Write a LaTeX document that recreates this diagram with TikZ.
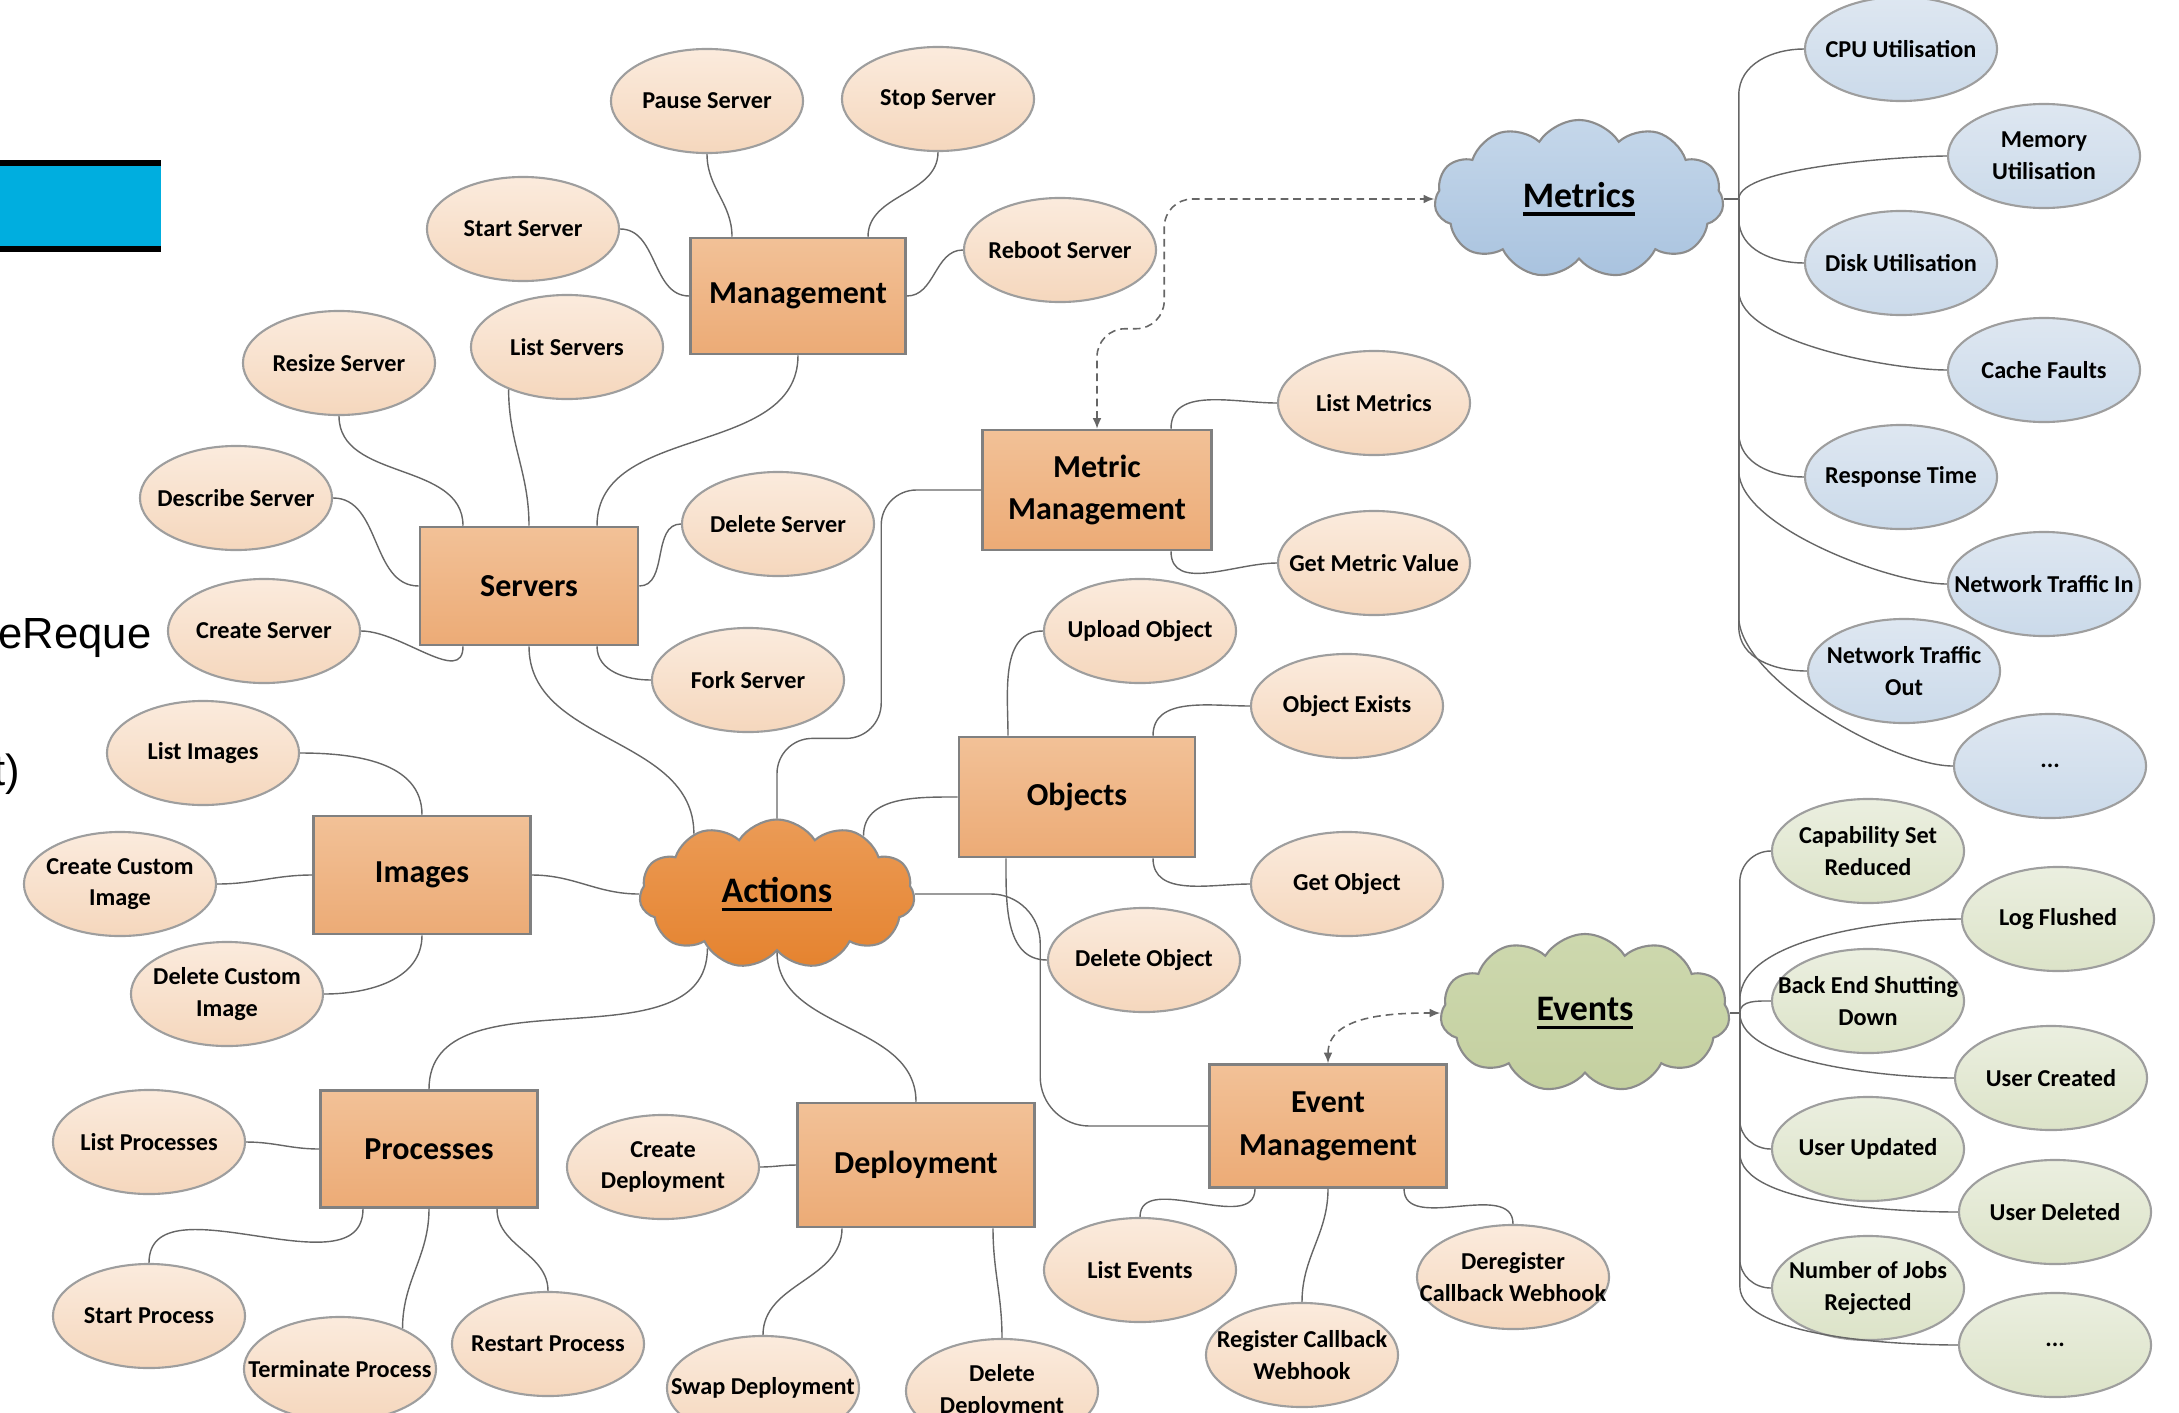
\documentclass[tikz,border=0pt]{standalone}
\usepackage{fontspec}
\setmainfont{Carlito}
\newfontfamily\slidefont{Liberation Sans}
\newcommand{\hubul}[1]{\setbox0\hbox{#1}\rlap{\rule[-2.3pt]{\wd0}{0.9pt}}\box0}
\usepackage{tikz}
\usetikzlibrary{arrows.meta,positioning,shapes.geometric,shapes.symbols,calc}

\definecolor{peachtop}{HTML}{FBEBDD}
\definecolor{peachbot}{HTML}{F5D7BD}
\definecolor{boxtop}{HTML}{F2C197}
\definecolor{boxbot}{HTML}{ECAB76}
\definecolor{bluetop}{HTML}{DEE7F1}
\definecolor{bluebot}{HTML}{CBDAEA}
\definecolor{greentop}{HTML}{EBEFE0}
\definecolor{greenbot}{HTML}{DCE3C8}
\definecolor{acttop}{HTML}{EB9B56}
\definecolor{actbot}{HTML}{E5832F}
\definecolor{mettop}{HTML}{C5D7EA}
\definecolor{metbot}{HTML}{A9C3DF}
\definecolor{evttop}{HTML}{CDD8AE}
\definecolor{evtbot}{HTML}{C4D0A0}
\definecolor{slideblue}{HTML}{00AEDF}

\begin{document}
\begin{tikzpicture}[x=0.01cm, y=-0.01cm,
  task/.style={ellipse, draw=black!38, line width=0.6pt, top color=peachtop, bottom color=peachbot,
               minimum width=1.92cm, minimum height=1.04cm, inner xsep=-18pt, inner ysep=0pt,
               align=center, font=\fontsize{6.9}{9}\selectfont\bfseries},
  mtask/.style={task, top color=bluetop, bottom color=bluebot},
  etask/.style={task, top color=greentop, bottom color=greenbot},
  group/.style={draw=black!50, line width=0.7pt, top color=boxtop, bottom color=boxbot,
                minimum width=2.17cm, minimum height=1.18cm, inner sep=0pt, align=center,
                font=\fontsize{9.1}{12.2}\selectfont\bfseries},
  hub/.style={cloud, cloud puffs=11, cloud puff arc=115, cloud ignores aspect, draw=black!45,
              line width=0.6pt, minimum width=2.89cm, minimum height=1.58cm, inner sep=0pt,
              font=\fontsize{10.2}{12}\selectfont\bfseries},
  link/.style={draw=black!60, line width=0.4pt},
  feed/.style={draw=black!60, line width=0.45pt, dash pattern=on 2.2pt off 1.4pt,
               {Latex[length=3pt,width=2.5pt]}-{Latex[length=3pt,width=2.5pt]}},
  slidetxt/.style={inner sep=0pt, font=\slidefont\fontsize{12.4}{14}\selectfont},
]
\useasboundingbox (0,0) rectangle (2179,1412);

% Slide leftovers
\fill[slideblue] (0,160) rectangle (161,252);
\fill[black] (0,160) rectangle (161,166);
\fill[black] (0,246) rectangle (161,252);
\node[slidetxt, anchor=base west] (frag1) at (-2,648) {eReque};
\node[slidetxt, anchor=base east] (frag2) at (21,785) {t)};

% Hubs
\node[hub, top color=acttop, bottom color=actbot, minimum width=2.75cm, minimum height=1.49cm] (actions) at (777,894) {\hubul{Actions}};
\node[hub, top color=mettop, bottom color=metbot] (metrics) at (1579,199) {\hubul{Metrics}};
\node[hub, top color=evttop, bottom color=evtbot] (events) at (1585,1013) {\hubul{Events}};
\coordinate (mhub) at ($(metrics.east)+(15,0)$);
\coordinate (ehub) at ($(events.east)+(10,0)$);

% Groups
\node[group, minimum width=2.15cm, minimum height=1.16cm] (mgmt) at (798,296) {Management};
\node[group, minimum width=2.18cm] (servers) at (529,586) {Servers};
\node[group] (images) at (422,875) {Images};
\node[group, minimum height=1.17cm] (procs) at (429,1149) {Processes};
\node[group, minimum width=2.37cm, minimum height=1.24cm] (deploy) at (916,1165) {Deployment};
\node[group, minimum width=2.29cm, minimum height=1.2cm] (metricmgmt) at (1097,490) {Metric\\Management};
\node[group, minimum width=2.36cm, minimum height=1.2cm] (objects) at (1077,797) {Objects};
\node[group, minimum width=2.37cm, minimum height=1.23cm] (eventmgmt) at (1328,1126) {Event\\Management};

% Server tasks
\node[task] (pause) at (707,101) {Pause Server};
\node[task] (stop) at (938,99) {Stop Server};
\node[task] (start) at (523,229) {Start Server};
\node[task] (reboot) at (1060,250) {Reboot Server};
\node[task] (resize) at (339,363) {Resize Server};
\node[task] (listsrv) at (567,347) {List Servers};
\node[task] (describe) at (236,498) {Describe Server};
\node[task] (delsrv) at (778,524) {Delete Server};
\node[task] (createsrv) at (264,631) {Create Server};
\node[task] (fork) at (748,680) {Fork Server};

% Image tasks
\node[task] (listimg) at (203,753) {List Images};
\node[task] (createimg) at (120,884) {Create Custom\\Image};
\node[task] (delimg) at (227,994) {Delete Custom\\Image};

% Process and deployment tasks
\node[task] (listproc) at (149,1142) {List Processes};
\node[task] (startproc) at (149,1316) {Start Process};
\node[task] (termproc) at (340,1369) {Terminate Process};
\node[task] (restartproc) at (548,1344) {Restart Process};
\node[task] (createdep) at (663,1167) {Create\\Deployment};
\node[task] (swapdep) at (763,1388) {Swap Deployment};
\node[task] (deldep) at (1002,1391) {Delete\\Deployment};

% Metric, object and event tasks
\node[task] (listmet) at (1374,403) {List Metrics};
\node[task] (getmet) at (1374,563) {Get Metric Value};
\node[task] (upload) at (1140,631) {Upload Object};
\node[task] (exists) at (1347,706) {Object Exists};
\node[task] (getobj) at (1347,884) {Get Object};
\node[task] (delobj) at (1144,960) {Delete Object};
\node[task] (listevt) at (1140,1270) {List Events};
\node[task] (regcb) at (1302,1355) {Register Callback\\Webhook};
\node[task] (deregcb) at (1513,1277) {Deregister\\Callback Webhook};

% Metrics
\node[mtask] (cpu) at (1901,49) {CPU Utilisation};
\node[mtask] (mem) at (2044,156) {Memory\\Utilisation};
\node[mtask] (disk) at (1901,263) {Disk Utilisation};
\node[mtask] (cache) at (2044,370) {Cache Faults};
\node[mtask] (resp) at (1901,477) {Response Time};
\node[mtask] (netin) at (2044,584) {Network Traffic In};
\node[mtask] (netout) at (1904,671) {Network Traffic\\Out};
\node[mtask] (mdots) at (2050,766) {...};

% Events
\node[etask] (capset) at (1868,851) {Capability Set\\Reduced};
\node[etask] (logfl) at (2058,919) {Log Flushed};
\node[etask] (backend) at (1868,1001) {Back End Shutting\\Down};
\node[etask] (ucreated) at (2051,1078) {User Created};
\node[etask] (uupdated) at (1868,1149) {User Updated};
\node[etask] (udeleted) at (2055,1212) {User Deleted};
\node[etask] (jobsrej) at (1868,1288) {Number of Jobs\\Rejected};
\node[etask] (edots) at (2055,1345) {...};

% Management links
\draw[link] (pause.south) to[out=-90,in=90] ($(mgmt.north)+(-66,0)$);
\draw[link] (stop.south) to[out=-90,in=90] ($(mgmt.north)+(70,0)$);
\draw[link] (start.east) to[out=0,in=180] (mgmt.west);
\draw[link] (reboot.west) to[out=180,in=0] (mgmt.east);
\draw[link] (mgmt.south) to[out=-90,in=90] ($(servers.north)+(68,0)$);

% Server links
\draw[link] (resize.south) to[out=-90,in=90] ($(servers.north)+(-66,0)$);
\draw[link] (listsrv.216) to[out=-90,in=90] (servers.north);
\draw[link] (describe.east) to[out=0,in=180] (servers.west);
\draw[link] (createsrv.east) to[out=0,in=-90] ($(servers.south)+(-66,0)$);
\draw[link] (delsrv.west) to[out=180,in=0] (servers.east);
\draw[link] (fork.west) to[out=180,in=-90] ($(servers.south)+(68,0)$);
\draw[link] (servers.south) to[out=-90,in=90] (actions.144);

% Image links
\draw[link] (listimg.east) to[out=0,in=90] (images.north);
\draw[link] (createimg.east) to[out=0,in=180] (images.west);
\draw[link] (delimg.east) to[out=0,in=-90] (images.south);
\draw[link] (images.east) to[out=0,in=180] (actions.west);

% Process links
\draw[link] (actions.218) to[out=-90,in=90] (procs.north);
\draw[link] (listproc.east) to[out=0,in=180] (procs.west);
\draw[link] (startproc.north) to[out=90,in=-90] ($(procs.south)+(-66,0)$);
\draw[link] (termproc.33) to[out=90,in=-90] (procs.south);
\draw[link] (restartproc.north) to[out=90,in=-90] ($(procs.south)+(68,0)$);

% Deployment links
\draw[link] (actions.south) to[out=-90,in=90] (deploy.north);
\draw[link] (createdep.east) to[out=0,in=180] (deploy.west);
\draw[link] (swapdep.north) to[out=90,in=-90] ($(deploy.south)+(-74,0)$);
\draw[link] (deldep.north) to[out=90,in=-90] ($(deploy.south)+(77,0)$);

% Metric management links
\draw[link, rounded corners=10pt] (actions.north) -- ++(0,-80) -| ($(metricmgmt.west)+(-100,0)$) -- (metricmgmt.west);
\draw[link] (listmet.west) to[out=180,in=90] ($(metricmgmt.north)+(74,0)$);
\draw[link] (getmet.west) to[out=180,in=-90] ($(metricmgmt.south)+(74,0)$);
\draw[feed, rounded corners=8pt] (metricmgmt.north) -- ++(0,-100) -| ($(metrics.west)+(-270,0)$) -- (metrics.west);

% Object links
\draw[link] (actions.34) to[out=90,in=180] (objects.west);
\draw[link] (upload.west) to[out=180,in=90] ($(objects.north)+(-69,0)$);
\draw[link] (exists.west) to[out=180,in=90] ($(objects.north)+(76,0)$);
\draw[link] (getobj.west) to[out=180,in=-90] ($(objects.south)+(76,0)$);
\draw[link] (delobj.west) to[out=180,in=-90] ($(objects.south)+(-71,0)$);

% Event management links
\draw[link, rounded corners=14pt] (actions.east) -| ($(eventmgmt.west)+(-168,0)$) -- (eventmgmt.west);
\draw[feed] (eventmgmt.north) to[out=90,in=180] (events.west);
\draw[link] (listevt.north) to[out=90,in=-90] ($(eventmgmt.south)+(-73,0)$);
\draw[link] (regcb.north) to[out=90,in=-90] (eventmgmt.south);
\draw[link] (deregcb.north) to[out=90,in=-90] ($(eventmgmt.south)+(76,0)$);

% Metrics fan
\draw[link] (metrics.east) -- (mhub);
\draw[link] (mhub) -- ++(0,-104) to[out=90,in=180] (cpu.west);
\draw[link] (mhub) to[out=90,in=180,looseness=0.4] (mem.west);
\draw[link] (mhub) -- ++(0,20) to[out=-90,in=180] (disk.west);
\draw[link] (mhub) -- ++(0,92) to[out=-90,in=180,looseness=0.6] (cache.west);
\draw[link] (mhub) -- ++(0,234) to[out=-90,in=180] (resp.west);
\draw[link] (mhub) -- ++(0,272) to[out=-90,in=180,looseness=0.6] (netin.west);
\draw[link] (mhub) -- ++(0,428) to[out=-90,in=180] (netout.west);
\draw[link] (mhub) -- ++(0,418) to[out=-90,in=180,looseness=0.6] (mdots.west);

% Events fan
\draw[link] (events.east) -- (ehub);
\draw[link] (ehub) -- ++(0,-131) to[out=90,in=180] (capset.west);
\draw[link] (ehub) -- ++(0,-13) to[out=90,in=180,looseness=0.7] (logfl.west);
\draw[link] (ehub) to[out=90,in=180] (backend.west);
\draw[link] (ehub) to[out=-90,in=180,looseness=0.6] (ucreated.west);
\draw[link] (ehub) -- ++(0,107) to[out=-90,in=180] (uupdated.west);
\draw[link] (ehub) -- ++(0,140) to[out=-90,in=180,looseness=0.6] (udeleted.west);
\draw[link] (ehub) -- ++(0,246) to[out=-90,in=180] (jobsrej.west);
\draw[link] (ehub) -- ++(0,273) to[out=-90,in=180,looseness=0.6] (edots.west);
\end{tikzpicture}
\end{document}
